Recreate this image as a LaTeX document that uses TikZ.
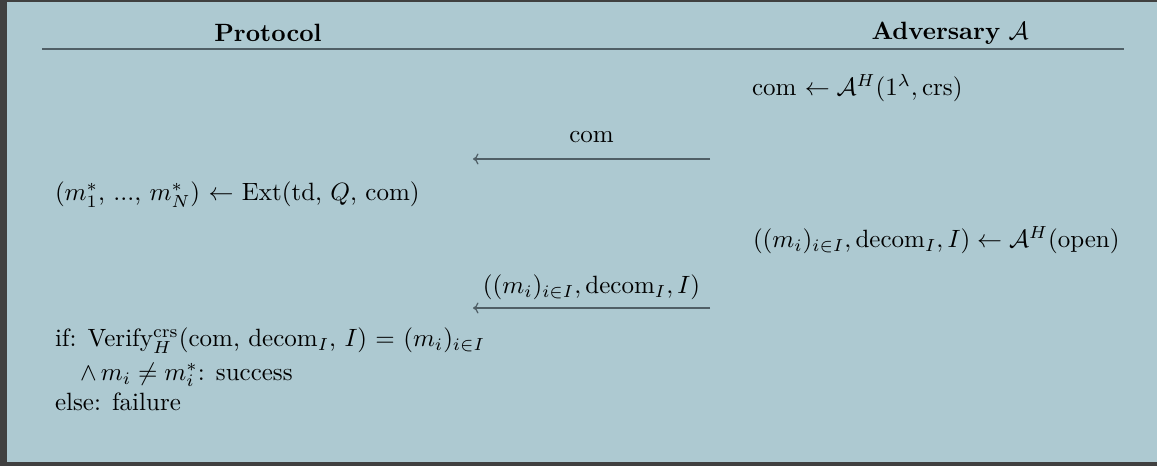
\documentclass[tikz,border=0pt]{standalone}
\usepackage{amsmath, amssymb}
\usetikzlibrary{arrows.meta, positioning}
\definecolor{panelbg}{HTML}{ADC9D1}
\definecolor{framegray}{HTML}{404040}
\definecolor{rulegray}{HTML}{505F66}

\begin{document}
\begin{tikzpicture}[x=0.4pt, y=-0.4pt, every node/.style={inner sep=0pt, outer sep=0pt},
    msg/.style={draw=rulegray, line width=0.5pt, -{To[length=2.2pt, width=4.4pt]}},
    lbl/.style={midway, anchor=base, yshift=6.5pt}]
    \useasboundingbox (0,0) rectangle (1157,466);
    % Fond et cadre
    \fill[panelbg] (0,0) rectangle (1157,466);
    \fill[framegray] (0,0) rectangle (7,466);
    \fill[framegray] (0,0) rectangle (1157,2);
    \fill[framegray] (0,462) rectangle (1157,466);
    % En-tetes
    \node (prot) at (268,33) {\textbf{Protocol}};
    \node (adv) at (950,33) {\textbf{Adversary} $\mathcal{A}$};
    \coordinate (hl) at (42,49);
    \coordinate (hr) at (1124,49);
    \draw[rulegray, line width=0.8pt] (hl) -- (hr);
    % Engagement
    \node[anchor=west] (commit) at (752,88) {com $\leftarrow \mathcal{A}^H(1^\lambda, \text{crs})$};
    \coordinate (s1) at (710,159);
    \coordinate (e1) at (473,159);
    \draw[msg] (s1) -- node[lbl] (m1) {com} (e1);
    \node[anchor=west] (ext) at (55,195) {($m_1^*$, ..., $m_N^*$) $\leftarrow$ Ext(td, $Q$, com)};
    % Ouverture
    \node[anchor=west] (open) at (753,240) {$((m_i)_{i\in I}, \text{decom}_I, I) \leftarrow \mathcal{A}^H$(open)};
    \coordinate (s2) at (710,308);
    \coordinate (e2) at (473,308);
    \draw[msg] (s2) -- node[lbl, yshift=-0.8pt] (m2) {$((m_i)_{i\in I}, \text{decom}_I, I)$} (e2);
    % Verification
    \node[anchor=west] (ver) at (55,341) {if: Verify$^{\text{crs}}_H$(com, decom$_I$, $I$) = $(m_i)_{i\in I}$};
    \node[anchor=west] (succ) at (55,375) {\quad$\wedge\, m_i \neq m_i^*$: success};
    \node[anchor=west] (fail) at (55,402) {else: failure};
\end{tikzpicture}
\end{document}
